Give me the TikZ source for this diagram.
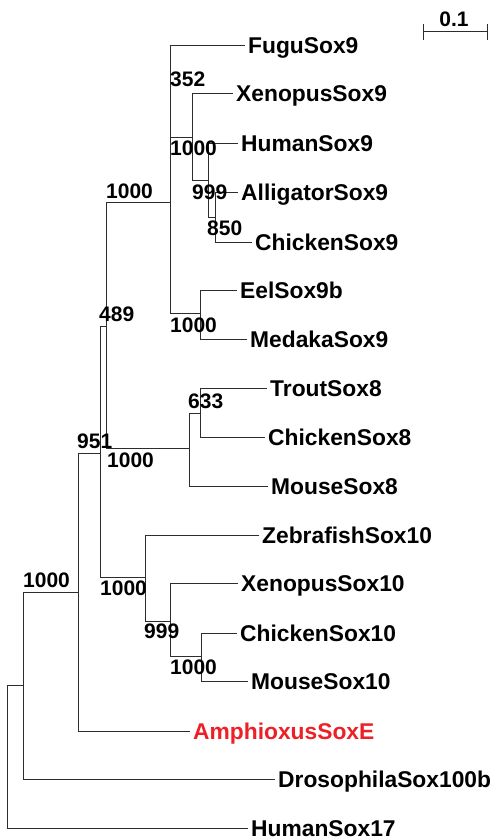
\documentclass[tikz,border=0pt]{standalone}
\usepackage{fontspec}
\usepackage{xcolor}
\usetikzlibrary{calc}
\newfontfamily\treefont{Liberation Sans}
\definecolor{ink}{RGB}{45, 45, 45}
\definecolor{amphired}{RGB}{236, 32, 38}
\tikzset{
    taxon/.style={anchor=west, inner xsep=3pt, inner ysep=0pt, text height=20pt, text depth=4pt, font=\treefont\bfseries\fontsize{22.8}{24}\selectfont},
    boot/.style={anchor=base west, inner sep=0pt, font=\treefont\bfseries\fontsize{21}{22}\selectfont},
    branch/.style={draw=ink, line width=1pt}
}
\begin{document}
\begin{tikzpicture}[x=1pt, y=-1pt]
    \useasboundingbox (0,0) rectangle (495,840);
    \coordinate (root) at (7,685);
    \coordinate (grpE) at (23,685);
    \coordinate (chord) at (78,592);
    \coordinate (vert) at (100,453);
    \coordinate (sox89) at (106,326);
    \coordinate (sox9) at (170,202);
    \coordinate (sox9b) at (192,137);
    \coordinate (sox9c) at (208,180);
    \coordinate (sox9d) at (215,217);
    \coordinate (eelmed) at (200,313);
    \coordinate (sox8) at (189,448);
    \coordinate (sox8b) at (200,413);
    \coordinate (sox10) at (145,577);
    \coordinate (sox10b) at (170,621);
    \coordinate (sox10c) at (201,656);

    \node[taxon] (fugu9) at (245,46) {FuguSox9};
    \node[taxon] (xen9) at (233,94) {XenopusSox9};
    \node[taxon] (hum9) at (238,143) {HumanSox9};
    \node[taxon] (all9) at (238,192) {AlligatorSox9};
    \node[taxon] (chk9) at (252,242) {ChickenSox9};
    \node[taxon] (eel9) at (237,290) {EelSox9b};
    \node[taxon] (med9) at (247,339) {MedakaSox9};
    \node[taxon] (tro8) at (267,388) {TroutSox8};
    \node[taxon] (chk8) at (265,437) {ChickenSox8};
    \node[taxon] (mou8) at (268,486) {MouseSox8};
    \node[taxon] (zeb10) at (259,535) {ZebrafishSox10};
    \node[taxon] (xen10) at (238,583) {XenopusSox10};
    \node[taxon] (chk10) at (237,633) {ChickenSox10};
    \node[taxon] (mou10) at (248,681) {MouseSox10};
    \node[taxon, text=amphired] (amphi) at (190,731) {AmphioxusSoxE};
    \node[taxon] (dros) at (275,779) {DrosophilaSox100b};
    \node[taxon] (hum17) at (248,828) {HumanSox17};

    \draw[branch] (root) |- (grpE); \draw[branch] (root) |- (hum17.west);
    \draw[branch] (grpE) |- (chord); \draw[branch] (grpE) |- (dros.west);
    \draw[branch] (chord) |- (vert); \draw[branch] (chord) |- (amphi.west);
    \draw[branch] (vert) |- (sox89); \draw[branch] (vert) |- (sox10);
    \draw[branch] (sox89) |- (sox9); \draw[branch] (sox89) |- (sox8);
    \draw[branch] (sox9) |- (fugu9.west); \draw[branch] (sox9) |- (sox9b); \draw[branch] (sox9) |- (eelmed);
    \draw[branch] (sox9b) |- (xen9.west); \draw[branch] (sox9b) |- (sox9c);
    \draw[branch] (sox9c) |- (hum9.west); \draw[branch] (sox9c) |- (sox9d);
    \draw[branch] (sox9d) |- (all9.west); \draw[branch] (sox9d) |- (chk9.west);
    \draw[branch] (eelmed) |- (eel9.west); \draw[branch] (eelmed) |- (med9.west);
    \draw[branch] (sox8) |- (sox8b); \draw[branch] (sox8) |- (mou8.west);
    \draw[branch] (sox8b) |- (tro8.west); \draw[branch] (sox8b) |- (chk8.west);
    \draw[branch] (sox10) |- (zeb10.west); \draw[branch] (sox10) |- (sox10b);
    \draw[branch] (sox10b) |- (xen10.west); \draw[branch] (sox10b) |- (sox10c);
    \draw[branch] (sox10c) |- (chk10.west); \draw[branch] (sox10c) |- (mou10.west);

    \node[boot] (bs352) at (170,87) {352};
    \node[boot] (bsHum9) at (170,155) {1000};
    \node[boot] (bsAll9) at (192,199) {999};
    \node[boot] (bs850) at (207,235) {850};
    \node[boot] (bsSox9) at (106,198) {1000};
    \node[boot] (bsEel) at (170,332) {1000};
    \node[boot] (bs489) at (99,321) {489};
    \node[boot] (bs633) at (188,408) {633};
    \node[boot] (bs951) at (77,448) {951};
    \node[boot] (bsSox8) at (107,467) {1000};
    \node[boot] (bsSox10) at (100,595) {1000};
    \node[boot] (bsXen10) at (144,638) {999};
    \node[boot] (bsChk10) at (170,674) {1000};
    \node[boot] (bsChord) at (23,587) {1000};

    \coordinate (barL) at (423,32);
    \coordinate (barR) at (487,32);
    \draw[branch] (barL) -- (barR);
    \draw[branch] ($(barL)+(0,-8)$) -- ($(barL)+(0,8)$); \draw[branch] ($(barR)+(0,-8)$) -- ($(barR)+(0,8)$);
    \node[boot, anchor=base] (barlbl) at (454,27) {0.1};
\end{tikzpicture}
\end{document}
